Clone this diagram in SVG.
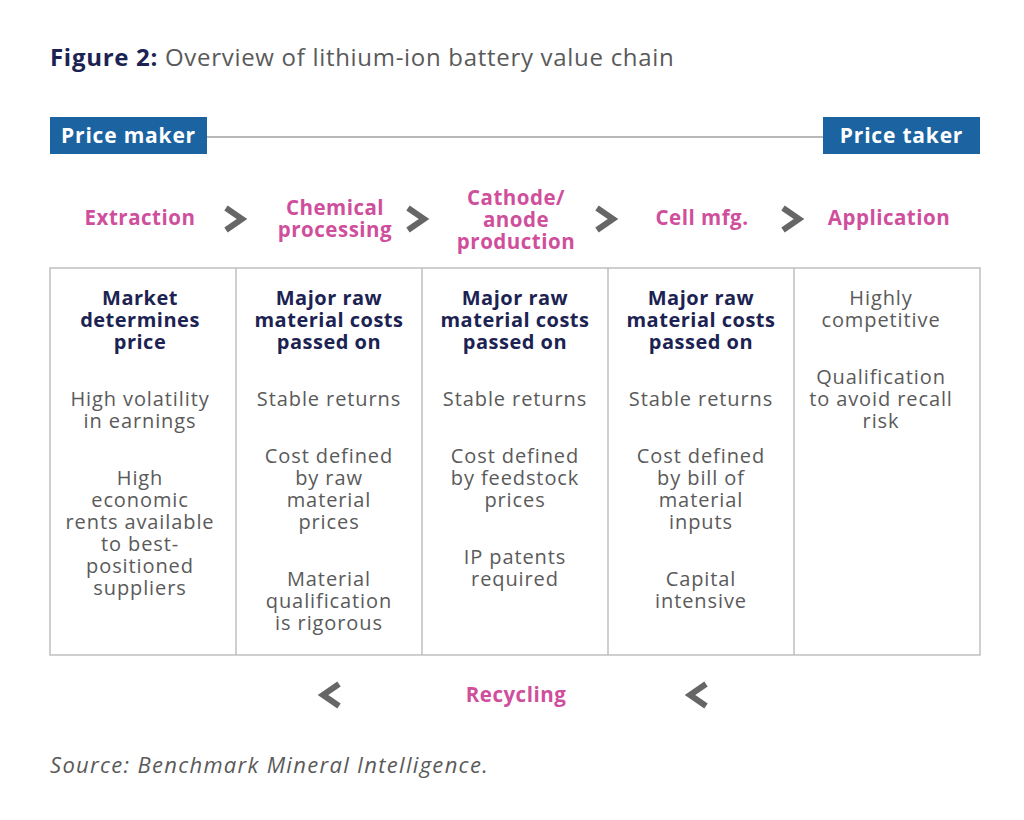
<svg xmlns="http://www.w3.org/2000/svg" width="1024" height="820" viewBox="0 0 1024 820">
<style>
text{font-family:"Open Sans","Liberation Sans",sans-serif}
.t{font-size:24px;fill:#5a5a5a;letter-spacing:0.7px}
.tb{font-weight:700;fill:#1c2352}
.pl{font-size:21px;font-weight:700;fill:#ffffff;text-anchor:middle;letter-spacing:0.8px}
.st{font-size:20.5px;font-weight:700;fill:#cf4f9c;text-anchor:middle;letter-spacing:0.5px}
.h{font-size:20px;font-weight:700;fill:#1c2352;text-anchor:middle;letter-spacing:0.5px}
.b{font-size:20px;fill:#5a5a5a;text-anchor:middle;letter-spacing:0.9px}
.chev{fill:none;stroke:#666666;stroke-width:6;stroke-linejoin:miter}
.grid{fill:none;stroke:#b5b5b5;stroke-width:1.3}
.src{font-size:22px;font-style:italic;fill:#5a5a5a;letter-spacing:1.3px}
</style>
<rect width="1024" height="820" fill="#ffffff"/>
<text x="50" y="66" class="t"><tspan class="tb">Figure 2:</tspan> Overview of lithium-ion battery value chain</text>

<g id="connectors">
<line x1="207" y1="137" x2="823" y2="137" stroke="#a0a0a0" stroke-width="1.5"/>
<polyline class="chev" points="226,208 242,219 226,230"/>
<polyline class="chev" points="408,208 424,219 408,230"/>
<polyline class="chev" points="597,208 613,219 597,230"/>
<polyline class="chev" points="783,208 799,219 783,230"/>
<polyline class="chev" points="339,684 323,695 339,706"/>
<polyline class="chev" points="706,684 690,695 706,706"/>
</g>

<g id="price-maker">
<rect x="50" y="117" width="157" height="37" fill="#1b64a1"/>
<text x="128.5" y="143" class="pl">Price maker</text>
</g>
<g id="price-taker">
<rect x="823" y="117" width="157" height="37" fill="#1b64a1"/>
<text x="901.5" y="143" class="pl">Price taker</text>
</g>

<g id="stage-extraction"><text x="140" y="225" class="st">Extraction</text></g>
<g id="stage-chemical"><text class="st"><tspan x="335" y="215">Chemical</tspan><tspan x="335" dy="22">processing</tspan></text></g>
<g id="stage-cathode"><text class="st"><tspan x="516" y="205">Cathode/</tspan><tspan x="516" dy="22">anode</tspan><tspan x="516" dy="22">production</tspan></text></g>
<g id="stage-cell"><text x="702" y="225" class="st">Cell mfg.</text></g>
<g id="stage-application"><text x="889" y="225" class="st">Application</text></g>

<g id="table">
<rect class="grid" x="50" y="268" width="930" height="387"/>
<line class="grid" x1="236" y1="268" x2="236" y2="655"/>
<line class="grid" x1="422" y1="268" x2="422" y2="655"/>
<line class="grid" x1="608" y1="268" x2="608" y2="655"/>
<line class="grid" x1="794" y1="268" x2="794" y2="655"/>
</g>

<g id="col-extraction">
<text class="h"><tspan x="140" y="305">Market</tspan><tspan x="140" dy="22">determines</tspan><tspan x="140" dy="22">price</tspan></text>
<text class="b"><tspan x="140" y="406">High volatility</tspan><tspan x="140" dy="22">in earnings</tspan></text>
<text class="b"><tspan x="140" y="485">High</tspan><tspan x="140" dy="22">economic</tspan><tspan x="140" dy="22">rents available</tspan><tspan x="140" dy="22">to best-</tspan><tspan x="140" dy="22">positioned</tspan><tspan x="140" dy="22">suppliers</tspan></text>
</g>

<g id="col-chemical">
<text class="h"><tspan x="329" y="305">Major raw</tspan><tspan x="329" dy="22">material costs</tspan><tspan x="329" dy="22">passed on</tspan></text>
<text x="329" y="406" class="b">Stable returns</text>
<text class="b"><tspan x="329" y="463">Cost defined</tspan><tspan x="329" dy="22">by raw</tspan><tspan x="329" dy="22">material</tspan><tspan x="329" dy="22">prices</tspan></text>
<text class="b"><tspan x="329" y="586">Material</tspan><tspan x="329" dy="22">qualification</tspan><tspan x="329" dy="22">is rigorous</tspan></text>
</g>

<g id="col-cathode">
<text class="h"><tspan x="515" y="305">Major raw</tspan><tspan x="515" dy="22">material costs</tspan><tspan x="515" dy="22">passed on</tspan></text>
<text x="515" y="406" class="b">Stable returns</text>
<text class="b"><tspan x="515" y="463">Cost defined</tspan><tspan x="515" dy="22">by feedstock</tspan><tspan x="515" dy="22">prices</tspan></text>
<text class="b"><tspan x="515" y="564">IP patents</tspan><tspan x="515" dy="22">required</tspan></text>
</g>

<g id="col-cell">
<text class="h"><tspan x="701" y="305">Major raw</tspan><tspan x="701" dy="22">material costs</tspan><tspan x="701" dy="22">passed on</tspan></text>
<text x="701" y="406" class="b">Stable returns</text>
<text class="b"><tspan x="701" y="463">Cost defined</tspan><tspan x="701" dy="22">by bill of</tspan><tspan x="701" dy="22">material</tspan><tspan x="701" dy="22">inputs</tspan></text>
<text class="b"><tspan x="701" y="586">Capital</tspan><tspan x="701" dy="22">intensive</tspan></text>
</g>

<g id="col-application">
<text class="b"><tspan x="881" y="305">Highly</tspan><tspan x="881" dy="22">competitive</tspan></text>
<text class="b"><tspan x="881" y="384">Qualification</tspan><tspan x="881" dy="22">to avoid recall</tspan><tspan x="881" dy="22">risk</tspan></text>
</g>

<g id="recycling"><text x="516" y="702" class="st">Recycling</text></g>

<text x="50" y="773" class="src">Source: Benchmark Mineral Intelligence.</text>
</svg>
